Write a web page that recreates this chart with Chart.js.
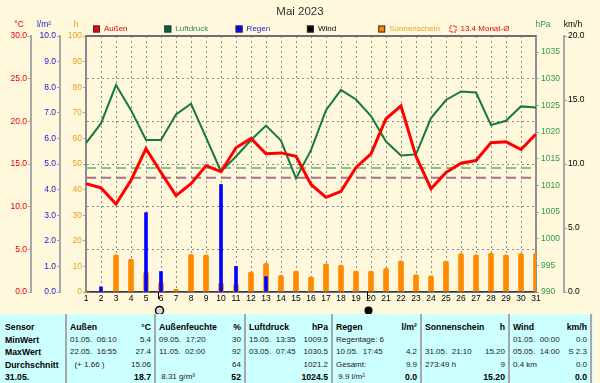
<!DOCTYPE html>
<html>
<head>
<meta charset="utf-8">
<script src="https://cdn.jsdelivr.net/npm/chart.js@4/dist/chart.umd.min.js"></script>
<style>
html,body{margin:0;padding:0;background:#FFF8DC;width:600px;height:383px;overflow:hidden;font-family:"Liberation Sans",Arial,sans-serif;}
#cv{position:absolute;left:0;top:0;}
#tbl{position:absolute;left:0;top:314px;width:593px;height:69px;background:#CCFFFF;}
.sep{position:absolute;top:0;width:2px;height:69px;background:#A8A8A8;}
.t{position:absolute;white-space:pre;line-height:12px;height:12px;font-size:8px;color:#222;}
.b{font-weight:bold;font-size:8.7px;color:#000;}
</style>
</head>
<body>
<canvas id="cv" width="600" height="315"></canvas>
<div id="tbl"></div>
<script>
// ---------- data ----------
const chartTitle = 'Mai 2023';
const days = [1,2,3,4,5,6,7,8,9,10,11,12,13,14,15,16,17,18,19,20,21,22,23,24,25,26,27,28,29,30,31];
const tempOutside = [12.7,12.2,10.3,13.1,16.8,14.0,11.3,12.7,14.8,14.1,16.9,18.0,16.2,16.3,15.9,12.6,11.1,11.8,14.6,16.2,20.3,21.8,15.9,12.1,14.0,15.1,15.4,17.5,17.6,16.7,18.5];
const pressure = [1017.9,1021.6,1028.8,1024.1,1018.5,1018.5,1023.3,1025.3,1019.0,1012.6,1015.4,1018.5,1021.2,1018.4,1011.3,1016.6,1024.1,1027.9,1026.1,1023.0,1018.2,1015.6,1015.8,1022.6,1026.0,1027.6,1027.4,1021.3,1022.1,1024.8,1024.6];
const rain = [0,0.2,0,0,3.1,0.8,0,0,0,4.2,1.0,0,0.6,0,0,0,0,0,0,0,0,0,0,0,0,0,0,0,0,0,0];
const sunshine = [0.5,0,14.5,12.9,7.8,3.8,1.0,14.7,14.5,3.6,3.1,7.9,11.2,6.5,8.2,5.9,11.0,10.5,8.2,8.2,9.2,12.2,6.8,6.3,12.1,15.0,14.5,15.2,14.5,15.0,15.2];
const wind = [0,0,0,0,0,0,0,0,0,0,0,0,0,0,0,0,0,0,0,0,0,0,0,0,0,0,0,0,0,0,0];
const monthAvgTemp = 13.4;
const stdPressure = 1013.25;
const moonDays = [5.82, 19.75];
const moonFull = [true, false];

// table texts
const tableHead = [['Sensor',''],['Außen','°C'],['Außenfeuchte','%'],['Luftdruck','hPa'],['Regen','l/m²'],['Sonnenschein','h'],['Wind','km/h']];
const tableMin  = [['MinWert',''],['01.05.  06:10','5.4'],['09.05.  17:20','30'],['15.05.  13:35','1009.5'],['Regentage: 6',''],['',''],['01.05.  00:00','0.0']];
const tableMax  = [['MaxWert',''],['22.05.  16:55','27.4'],['11.05.  02:00','92'],['03.05.  07:45','1030.5'],['10.05.  17:45','4.2'],['31.05.  21:10','15.20'],['05.05.  14:00','S 2.3']];
const tableAvg  = [['Durchschnitt',''],['  (+ 1.66 )','15.06'],['','64'],['','1021.2'],['Gesamt:','9.9'],['273:49 h','9'],['0.4 km','0.0']];
const tableNow  = [['31.05.',''],['','18.7'],[' 8.31 g/m³','52'],['','1024.5'],[' 9.9 l/m²','0.0'],['','15.20'],['','0.0']];

// ---------- table ----------
(function(){
  const tbl = document.getElementById('tbl');
  const edges = [0,66,155,245,332,421,509,591];
  for (let i=1;i<edges.length;i++){
    const s=document.createElement('div'); s.className='sep'; s.style.left=(edges[i]-1)+'px'; tbl.appendChild(s);
  }
  const rows=[tableHead,tableMin,tableMax,tableAvg,tableNow];
  rows.forEach((row,ri)=>{
    const top = 13 + ri*12.5 - 6;
    row.forEach((cell,ci)=>{
      const [l,r]=cell;
      if(l){
        const e=document.createElement('span');
        e.className='t'+((ri===0||ci===0)?' b':'');
        e.textContent=l; e.style.left=(edges[ci]+(ci===0?5:4))+'px'; e.style.top=top+'px';
        tbl.appendChild(e);
      }
      if(r){
        const e=document.createElement('span');
        e.className='t'+((ri===0||ri===4)?' b':'');
        e.textContent=r; e.style.right=(593-edges[ci+1]+4)+'px'; e.style.top=top+'px';
        tbl.appendChild(e);
      }
    });
  });
})();

// ---------- chart ----------
const F = '"Liberation Sans", Arial, sans-serif';
Chart.defaults.font.family = F;
Chart.defaults.font.size = 8.5;
const pts = arr => days.map((d,i)=>({x:d,y:arr[i]}));
const gridGray = '#8c8c8c';
const axisGray = '#A8A8A8';

const datasets = [
  {type:'line', label:'Außen', data:pts(tempOutside), yAxisID:'yT', borderColor:'#FF0000', borderWidth:3, pointRadius:0, tension:0, order:0,
   lg:{fill:'#FF0000', text:'#E00000'}},
  {type:'line', label:'Luftdruck', data:pts(pressure), yAxisID:'yP', borderColor:'#127A3C', borderWidth:2, pointRadius:0, tension:0, order:1,
   lg:{fill:'#006633', text:'#2E8B4A'}},
  {type:'bar', label:'Regen', data:pts(rain), yAxisID:'yR', backgroundColor:'#0000FF', barThickness:3, grouped:false, order:2,
   lg:{fill:'#0000FF', text:'#2020D0'}},
  {type:'line', label:'Wind', data:pts(wind), yAxisID:'yW', borderColor:'#000000', borderWidth:1, pointRadius:0, order:4,
   lg:{fill:'#000000', text:'#000000'}},
  {type:'bar', label:'Sonnenschein', data:pts(sunshine), yAxisID:'yH', backgroundColor:'#FF8C00', barThickness:5, borderRadius:2, grouped:false, order:3,
   lg:{fill:'#FF8000', text:'#E8A020'}},
  {type:'line', label:monthAvgTemp.toFixed(1)+' Monat-Ø', data:[{x:days[0],y:monthAvgTemp},{x:days[days.length-1],y:monthAvgTemp}], yAxisID:'yT',
   borderColor:'#A8708A', borderWidth:2, borderDash:[10,5], pointRadius:0, order:5,
   lg:{fill:null, dashed:'#FF0000', text:'#E00000'}},
  {type:'line', label:'Normaldruck', data:[{x:days[0],y:stdPressure},{x:days[days.length-1],y:stdPressure}], yAxisID:'yP',
   borderColor:'#86C486', borderWidth:2, borderDash:[10,5], pointRadius:0, order:6}
];

const vAxis = (o) => Object.assign({
  grid:{drawOnChartArea:false, tickLength:3, tickColor:axisGray, tickBorderDash:[], color:gridGray},
  border:{color:axisGray, width:2}
}, o);

const axisTitles = [
  {id:'yT', text:'°C', color:'#E00000', side:'right', dx:-12},
  {id:'yR', text:'l/m²', color:'#2020C8', side:'right', dx:-16},
  {id:'yH', text:'h', color:'#E8A020', side:'right', dx:-10},
  {id:'yP', text:'hPa', color:'#2E9A50', side:'left', dx:7},
  {id:'yW', text:'km/h', color:'#000000', side:'left', dx:9}
];

const decor = {
  id:'decor',
  afterDraw(chart){
    const {ctx, chartArea:a, scales} = chart;
    ctx.save();
    ctx.setLineDash([]);
    // top frame
    ctx.strokeStyle='#6e6e6e'; ctx.lineWidth=2;
    ctx.beginPath(); ctx.moveTo(a.left, a.top); ctx.lineTo(a.right, a.top); ctx.stroke();
    // title
    ctx.fillStyle='#333'; ctx.font='11.5px '+F; ctx.textAlign='center'; ctx.textBaseline='middle';
    ctx.fillText(chartTitle, 300, 12);
    // axis titles
    ctx.font='8.5px '+F;
    axisTitles.forEach(t=>{
      const s=scales[t.id];
      ctx.fillStyle=t.color;
      ctx.fillText(t.text, (t.side==='right'?s.right:s.left)+t.dx, 25);
    });
    // legend
    ctx.font='8px '+F; ctx.textAlign='left';
    let k=0;
    chart.data.datasets.forEach(ds=>{
      if(!ds.lg) return;
      const x = 93 + k*71.3, y = 25.5;
      if(ds.lg.fill){
        ctx.fillStyle=ds.lg.fill; ctx.fillRect(x,y,7,7);
        ctx.strokeStyle='#333'; ctx.lineWidth=1; ctx.strokeRect(x+0.5,y+0.5,6,6);
      } else {
        ctx.strokeStyle=ds.lg.dashed; ctx.lineWidth=1; ctx.setLineDash([2,1]);
        ctx.strokeRect(x+0.5,y+0.5,6,6); ctx.setLineDash([]);
      }
      ctx.fillStyle=ds.lg.text;
      ctx.fillText(ds.label, x+11, 29);
      k++;
    });
    // moon phases
    const xs=scales.x;
    moonDays.forEach((d,i)=>{
      const px=Math.round(xs.getPixelForValue(d))+0.5;
      ctx.strokeStyle='#000'; ctx.lineWidth=1;
      ctx.beginPath(); ctx.moveTo(px,a.bottom); ctx.lineTo(px,a.bottom+7); ctx.stroke();
      ctx.beginPath(); ctx.arc(px+1, 310.5, 4, 0, Math.PI*2);
      if(moonFull[i]){ ctx.fillStyle='#d8d8d8'; ctx.fill(); ctx.lineWidth=1.5; ctx.stroke(); }
      else { ctx.fillStyle='#000'; ctx.fill(); }
    });
    ctx.restore();
  }
};

new Chart(document.getElementById('cv'), {
  type:'bar',
  data:{datasets},
  options:{
    responsive:false, animation:false, devicePixelRatio:1, events:[],
    layout:{padding:{top:36,left:0,right:0,bottom:0}},
    plugins:{legend:{display:false}, title:{display:false}, tooltip:{enabled:false}},
    scales:{
      x:{type:'linear', position:'bottom', min:1, max:31, offset:false,
         ticks:{stepSize:1, autoSkip:false, maxRotation:0, color:'#000', padding:2, font:{size:8.5}},
         grid:{color:gridGray, drawTicks:false, offset:false},
         border:{color:'#6e6e6e', width:2, dash:[2,3]},
         afterFit(s){ s.height = 315-292; }},
      yT:vAxis({position:'left', weight:3, min:0, max:30,
         ticks:{stepSize:5, color:'#E00000', padding:1, callback:v=>v.toFixed(1)},
         grid:{drawOnChartArea:true, color:gridGray, tickLength:3, tickColor:axisGray, tickBorderDash:[]},
         border:{color:axisGray, width:2, dash:[2,3]},
         afterFit(s){ s.width=31; }}),
      yR:vAxis({position:'left', weight:2, min:0, max:10,
         ticks:{stepSize:1, color:'#2020C8', padding:1, callback:v=>v.toFixed(1)},
         afterFit(s){ s.width=29; }}),
      yH:vAxis({position:'left', weight:1, min:0, max:100,
         ticks:{stepSize:10, color:'#E8A020', padding:1, callback:v=>String(v)},
         border:{color:'#8a8a8a', width:2},
         afterFit(s){ s.width=26; }}),
      yP:vAxis({position:'right', weight:1, min:990, max:1038,
         ticks:{stepSize:5, color:'#2E9A50', padding:2, callback:v=>String(v)},
         border:{color:'#909090', width:2},
         afterBuildTicks(s){ s.ticks = s.ticks.filter(t=>t.value%5===0); },
         afterFit(s){ s.width=28; }}),
      yW:vAxis({position:'right', weight:2, min:0, max:20,
         ticks:{stepSize:5, color:'#000', padding:1, callback:v=>v.toFixed(1)},
         afterFit(s){ s.width=36; }})
    }
  },
  plugins:[decor]
});
</script>
</body>
</html>
